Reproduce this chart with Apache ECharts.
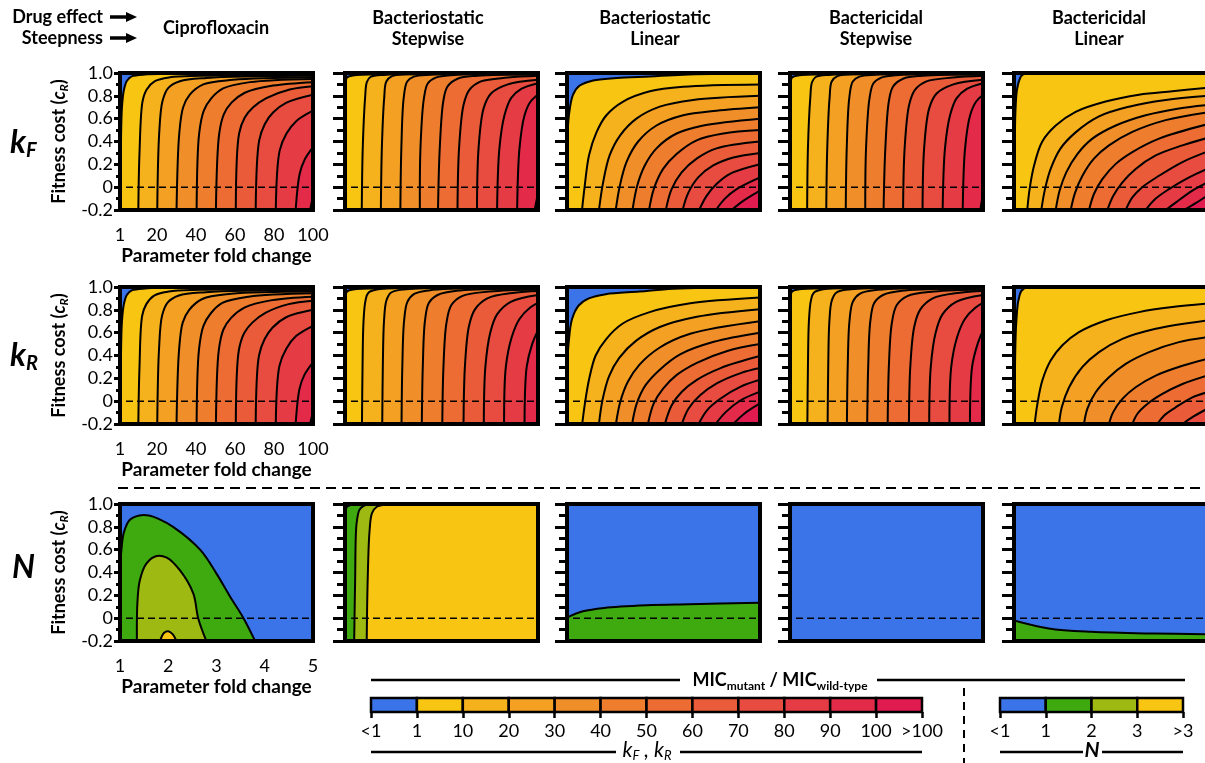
<!DOCTYPE html>
<html><head><meta charset="utf-8">
<script src="https://cdn.jsdelivr.net/npm/echarts@6/dist/echarts.min.js"></script>
<style>html,body{margin:0;padding:0;background:#fff}#c{width:1205px;height:763px}</style>
</head><body><div id="c"></div>
<script>
// ---------------- DATA ----------------
const COLUMN_TITLES = [['Ciprofloxacin'], ['Bacteriostatic', 'Stepwise'], ['Bacteriostatic', 'Linear'], ['Bactericidal', 'Stepwise'], ['Bactericidal', 'Linear']];
const ROW_NAMES = [['k', 'F'], ['k', 'R'], ['N', '']];
const K_X_TICKS = [1, 10, 20, 30, 40, 50, 60, 70, 80, 90, 100];
const K_X_LABELS = [1, 20, 40, 60, 80, 100];
const N_X_TICKS = [1, 2, 3, 4, 5];
const N_X_LABELS = [1, 2, 3, 4, 5];
const K_BAR_LABELS = ['<1', '1', '10', '20', '30', '40', '50', '60', '70', '80', '90', '100', '>100'];
const N_BAR_LABELS = ['<1', '1', '2', '3', '>3'];

// contour lines, each a list of [fold change, fitness cost] points; levels 1,10,20,...,100
const KF_CIPRO = [
  [[1.3,-0.2],[1.5,0.4],[2,0.7],[3,0.85],[4.5,0.93],[7,0.97],[15,0.988],[100,0.995]],
  [[10.4,-0.2],[11,0.3],[12.6,0.755],[14.7,0.856],[18.9,0.928],[26.6,0.962],[42,0.975],[100,0.985]],
  [[20.1,-0.2],[21.1,0.47],[22.8,0.755],[25.8,0.87],[31.7,0.928],[45.4,0.957],[100,0.975]],
  [[30,-0.2],[31.4,0.47],[33.4,0.70],[36.8,0.81],[43.7,0.9],[59,0.94],[100,0.962]],
  [[40.3,-0.2],[41.6,0.47],[44,0.67],[47.9,0.78],[53.9,0.865],[67.6,0.92],[100,0.948]],
  [[50.2,-0.2],[51.9,0.47],[54.3,0.64],[58.2,0.74],[65,0.827],[79.5,0.89],[100,0.92]],
  [[60.4,-0.2],[62.1,0.47],[65,0.61],[69.3,0.70],[76.1,0.78],[88,0.856],[100,0.885]],
  [[70.6,-0.2],[72.4,0.41],[75.3,0.554],[79.5,0.654],[86.4,0.74],[100,0.81]],
  [[80.9,-0.2],[82.9,0.32],[86.4,0.47],[91.5,0.58],[100,0.67]],
  [[91.1,-0.2],[93.2,0.12],[95.7,0.24],[100,0.35]],
  [[98.5,-0.2],[100,-0.08]]
];
const KR_CIPRO = [
  [[1.3,-0.2],[1.5,0.4],[2,0.7],[3,0.85],[4.5,0.93],[7,0.97],[15,0.988],[100,0.995]],
  [[10.4,-0.2],[11,0.3],[12.4,0.75],[14.5,0.85],[18.5,0.925],[26,0.96],[42,0.975],[100,0.985]],
  [[20.1,-0.2],[21,0.45],[22.6,0.75],[25.5,0.865],[31.2,0.925],[45,0.955],[100,0.973]],
  [[30,-0.2],[31.3,0.45],[33.2,0.69],[36.5,0.80],[43.2,0.895],[58,0.94],[100,0.96]],
  [[40.3,-0.2],[41.5,0.45],[43.8,0.66],[47.6,0.77],[53.5,0.86],[67,0.915],[100,0.945]],
  [[50.2,-0.2],[51.7,0.45],[54.1,0.63],[58,0.73],[64.8,0.82],[79,0.885],[100,0.915]],
  [[60.4,-0.2],[62,0.45],[64.8,0.6],[69,0.69],[75.8,0.775],[87.5,0.85],[100,0.88]],
  [[70.6,-0.2],[72.3,0.4],[75.2,0.545],[79.3,0.645],[86.2,0.735],[100,0.80]],
  [[80.9,-0.2],[82.8,0.31],[86.3,0.46],[91.3,0.57],[100,0.66]],
  [[91.1,-0.2],[93.1,0.11],[95.6,0.23],[100,0.34]],
  [[98.5,-0.2],[100,-0.09]]
];
const KF_BSTAT_STEP = [
  [[1.1,-0.2],[1.15,0.6],[1.3,0.9],[2,0.96],[6,0.98],[30,0.99],[100,0.995]],
  [[9.6,-0.2],[10.1,0.34],[11.3,0.78],[12.2,0.92],[14,0.965],[22,0.985],[100,0.995]],
  [[19.4,-0.2],[19.9,0.34],[21.1,0.78],[22.2,0.926],[25.1,0.972],[33,0.988],[100,0.995]],
  [[29.4,-0.2],[29.9,0.34],[31.1,0.78],[32.9,0.926],[36.3,0.968],[45,0.985],[100,0.993]],
  [[39.4,-0.2],[39.7,0.34],[41.5,0.78],[43.5,0.91],[47.5,0.96],[57,0.983],[100,0.99]],
  [[48.7,-0.2],[49.6,0.34],[51.4,0.75],[53.5,0.88],[58.7,0.95],[69,0.976],[100,0.987]],
  [[58.7,-0.2],[59.5,0.34],[61.8,0.72],[64.7,0.85],[70.7,0.926],[84.5,0.96],[100,0.975]],
  [[68.7,-0.2],[69.5,0.34],[72.1,0.69],[75.9,0.82],[84.5,0.90],[100,0.94]],
  [[79,-0.2],[80.2,0.34],[82.8,0.63],[86.2,0.78],[91.4,0.86],[100,0.91]],
  [[89.3,-0.2],[90.5,0.34],[93.1,0.63],[96.2,0.75],[100,0.81]],
  [[98.3,-0.2],[100,-0.05]]
];
const KR_BSTAT_STEP = [
  [[1.1,-0.2],[1.15,0.6],[1.3,0.9],[2,0.96],[6,0.98],[30,0.99],[100,0.995]],
  [[9.7,-0.2],[10,0.3],[10.5,0.7],[11.5,0.88],[13,0.95],[18,0.98],[100,0.995]],
  [[20.1,-0.2],[20.4,0.3],[21,0.7],[22.2,0.88],[24.5,0.95],[32,0.98],[100,0.993]],
  [[30,-0.2],[30.4,0.3],[31.3,0.7],[33,0.87],[36.5,0.94],[46,0.975],[100,0.99]],
  [[40.4,-0.2],[40.9,0.3],[42,0.7],[44,0.86],[48.5,0.93],[60,0.97],[100,0.985]],
  [[50.9,-0.2],[51.5,0.3],[53,0.68],[55.5,0.84],[61,0.92],[75,0.96],[100,0.978]],
  [[61.8,-0.2],[62.5,0.3],[64.5,0.65],[67.5,0.8],[74,0.9],[88,0.95],[100,0.965]],
  [[72.2,-0.2],[73,0.3],[75.5,0.6],[79,0.76],[86,0.87],[100,0.93]],
  [[82.6,-0.2],[83.5,0.3],[86.5,0.56],[90.5,0.72],[96,0.82],[100,0.86]],
  [[93.1,-0.2],[94.2,0.3],[97,0.5],[100,0.62]]
];
const KF_BSTAT_LIN = [
  [[1,0.37],[2,0.63],[4.1,0.81],[7.5,0.89],[14.4,0.935],[26.3,0.956],[43.5,0.97],[60.6,0.985],[100,0.997]],
  [[8.7,-0.2],[10.1,0.012],[12.3,0.28],[16.1,0.48],[21.2,0.63],[29.8,0.75],[43.5,0.84],[60.6,0.88],[100,0.90]],
  [[17.4,-0.2],[19.5,0.04],[22.9,0.28],[28.1,0.45],[36.6,0.60],[48.6,0.705],[65.7,0.764],[100,0.80]],
  [[26,-0.2],[28.1,0.012],[31.5,0.22],[37.5,0.40],[46.9,0.54],[60.6,0.63],[77.7,0.67],[100,0.70]],
  [[34.6,-0.2],[37,0.012],[40.9,0.19],[46.9,0.34],[57.2,0.47],[70.9,0.54],[100,0.60]],
  [[43.1,-0.2],[45.5,-0.017],[50.3,0.16],[57.2,0.29],[67.5,0.41],[81.2,0.47],[100,0.50]],
  [[51.7,-0.2],[54.6,-0.02],[59.8,0.13],[67.5,0.25],[77.7,0.34],[100,0.40]],
  [[60.3,-0.2],[63.2,-0.05],[68.3,0.086],[76,0.19],[86.3,0.26],[100,0.30]],
  [[68.8,-0.2],[72.6,-0.076],[77.7,0.027],[84.6,0.116],[100,0.20]],
  [[77.4,-0.2],[82,-0.1],[88,-0.017],[100,0.086]],
  [[85.4,-0.2],[91.4,-0.12],[100,-0.03]]
];
const KR_BSTAT_LIN = [
  [[1,0.276],[1.87,0.515],[3.6,0.72],[7.1,0.84],[12.2,0.90],[20.9,0.937],[38.2,0.96],[55.5,0.985],[100,1.0]],
  [[8.8,-0.2],[10.2,-0.02],[12.3,0.19],[15.7,0.40],[20.9,0.54],[29.6,0.68],[43.4,0.78],[64.2,0.857],[100,0.908]],
  [[17.4,-0.2],[19.2,0.01],[22.6,0.22],[27.8,0.38],[36.5,0.53],[48.6,0.65],[67.6,0.74],[100,0.806]],
  [[26.1,-0.2],[28.3,-0.007],[32.2,0.17],[38.2,0.32],[48.6,0.47],[64.2,0.59],[100,0.70]],
  [[34.4,-0.2],[36.8,-0.02],[41.3,0.14],[48.6,0.276],[59,0.41],[76.3,0.52],[100,0.60]],
  [[42.5,-0.2],[45.5,-0.02],[50.3,0.11],[57.3,0.23],[67.6,0.336],[83.2,0.44],[100,0.50]],
  [[51.2,-0.2],[54.7,-0.036],[59.9,0.083],[67.6,0.187],[79.8,0.29],[100,0.395]],
  [[59.9,-0.2],[63.3,-0.066],[69.4,0.053],[78,0.157],[90.1,0.246],[100,0.29]],
  [[68.5,-0.2],[72.8,-0.08],[79.8,0.023],[90.1,0.127],[100,0.187]],
  [[77.2,-0.2],[82.4,-0.096],[90.1,0.008],[100,0.083]],
  [[86.3,-0.2],[91.9,-0.11],[100,-0.02]]
];
const KF_BCID_STEP = [
  [[1.1,-0.2],[1.15,0.6],[1.3,0.9],[2,0.96],[6,0.98],[30,0.99],[100,0.995]],
  [[9.8,-0.2],[10.2,0.34],[11.4,0.78],[12.3,0.92],[14.2,0.965],[22,0.985],[100,0.995]],
  [[19.6,-0.2],[20.1,0.34],[21.3,0.78],[22.4,0.926],[25.3,0.972],[33,0.988],[100,0.995]],
  [[29.6,-0.2],[30.1,0.34],[31.4,0.78],[33.2,0.926],[36.6,0.968],[45,0.985],[100,0.993]],
  [[39.6,-0.2],[40,0.34],[41.8,0.78],[43.8,0.91],[47.8,0.96],[57,0.983],[100,0.99]],
  [[49,-0.2],[49.9,0.34],[51.7,0.75],[53.8,0.88],[59,0.95],[69,0.976],[100,0.987]],
  [[59,-0.2],[59.8,0.34],[62.1,0.72],[65,0.85],[71,0.926],[84.5,0.96],[100,0.975]],
  [[69,-0.2],[69.8,0.34],[72.4,0.69],[76.2,0.82],[84.8,0.90],[100,0.94]],
  [[79.3,-0.2],[80.5,0.34],[83.1,0.63],[86.5,0.78],[91.7,0.86],[100,0.91]],
  [[89.6,-0.2],[90.8,0.34],[93.4,0.63],[96.5,0.75],[100,0.81]],
  [[98.6,-0.2],[100,-0.06]]
];
const KR_BCID_STEP = [
  [[1.1,-0.2],[1.15,0.6],[1.3,0.9],[2,0.96],[6,0.98],[30,0.99],[100,0.995]],
  [[9.9,-0.2],[10.2,0.3],[10.7,0.7],[11.7,0.88],[13.2,0.95],[18,0.98],[100,0.995]],
  [[20.3,-0.2],[20.6,0.3],[21.2,0.7],[22.4,0.88],[24.7,0.95],[32,0.98],[100,0.993]],
  [[30.2,-0.2],[30.6,0.3],[31.5,0.7],[33.2,0.87],[36.7,0.94],[46,0.975],[100,0.99]],
  [[40.6,-0.2],[41.1,0.3],[42.2,0.7],[44.2,0.86],[48.7,0.93],[60,0.97],[100,0.985]],
  [[51.1,-0.2],[51.7,0.3],[53.2,0.68],[55.7,0.84],[61.2,0.92],[75,0.96],[100,0.978]],
  [[62,-0.2],[62.7,0.3],[64.7,0.65],[67.7,0.8],[74.2,0.9],[88,0.95],[100,0.965]],
  [[72.4,-0.2],[73.2,0.3],[75.7,0.6],[79.2,0.76],[86.2,0.87],[100,0.93]],
  [[82.8,-0.2],[83.7,0.3],[86.7,0.56],[90.7,0.72],[96.2,0.82],[100,0.86]],
  [[93.3,-0.2],[94.4,0.3],[97.2,0.5],[100,0.62]]
];
const KF_BCID_LIN = [
  [[1.3,-0.2],[1.4,0.3],[1.7,0.65],[2.5,0.85],[3.8,0.94],[5.5,0.985],[100,1.0]],
  [[7.8,-0.2],[9,-0.017],[11.3,0.19],[15.5,0.40],[22.4,0.54],[32.6,0.66],[48,0.75],[65.1,0.81],[82.2,0.84],[100,0.87]],
  [[15,-0.2],[16.9,-0.017],[19.8,0.16],[24.9,0.34],[32.6,0.48],[44.6,0.62],[60,0.705],[78.8,0.764],[100,0.80]],
  [[22.4,-0.2],[24.4,-0.03],[27.8,0.13],[33.5,0.29],[41.2,0.425],[53.2,0.54],[68.5,0.63],[85.6,0.69],[100,0.72]],
  [[30.1,-0.2],[32.3,-0.05],[36.1,0.10],[42,0.25],[49.7,0.366],[61.7,0.484],[78.8,0.587],[100,0.655]],
  [[39.5,-0.2],[42,-0.06],[46.3,0.07],[53.2,0.204],[61.7,0.307],[75.4,0.425],[100,0.55]],
  [[48.9,-0.2],[51.8,-0.08],[56.6,0.042],[63.4,0.16],[73.7,0.278],[87.4,0.366],[100,0.43]],
  [[58.3,-0.2],[61.7,-0.09],[66.8,0.0],[75.4,0.10],[87.4,0.22],[100,0.31]],
  [[68.5,-0.2],[73.7,-0.1],[80.5,-0.017],[90.8,0.086],[100,0.16]],
  [[78.8,-0.2],[83.9,-0.135],[92.5,-0.03],[100,0.04]],
  [[88.2,-0.2],[94.2,-0.14],[100,-0.076]]
];
const KR_BCID_LIN = [
  [[1.4,-0.2],[1.6,0.4],[2.2,0.7],[3.5,0.9],[6,0.985],[100,1.0]],
  [[11.6,-0.2],[13,-0.024],[15.5,0.18],[19.8,0.356],[25.8,0.49],[34.3,0.605],[48,0.707],[65.1,0.78],[82.2,0.824],[100,0.854]],
  [[24.1,-0.2],[25.5,-0.054],[29.2,0.12],[36.1,0.30],[44.6,0.43],[56.6,0.546],[73.7,0.634],[100,0.707]],
  [[36.9,-0.2],[38.6,-0.068],[42.9,0.078],[49.7,0.21],[58.3,0.327],[70.3,0.43],[85.6,0.517],[100,0.56]],
  [[49.7,-0.2],[51.8,-0.098],[56.6,0.02],[63.4,0.122],[73.7,0.224],[87.4,0.31],[100,0.37]],
  [[61.7,-0.2],[64.3,-0.11],[69.4,-0.024],[77.1,0.063],[87.4,0.15],[100,0.224]],
  [[74.5,-0.2],[77.9,-0.127],[83.9,-0.054],[92.5,0.034],[100,0.078]],
  [[87.4,-0.2],[92.5,-0.14],[100,-0.068]]
];
// N contours (levels 1, 2, 3)
const N_CIPRO = [
  [[1,0.42],[1.03,0.6],[1.08,0.75],[1.2,0.86],[1.4,0.9],[1.6,0.9],[1.8,0.87],[2.1,0.8],[2.66,0.6],[3.0,0.39],[3.28,0.19],[3.56,0],[3.8,-0.2]],
  [[1.35,-0.2],[1.36,0.13],[1.41,0.33],[1.55,0.48],[1.76,0.545],[1.97,0.53],[2.24,0.42],[2.52,0.215],[2.62,0.0],[2.79,-0.2]],
  [[1.83,-0.2],[1.91,-0.13],[2.0,-0.115],[2.09,-0.14],[2.17,-0.2]]
];
const N_BSTAT_STEP = [
  [[1,0.93],[1.04,0.975],[1.12,0.99],[1.3,1.0]],
  [[1.19,-0.2],[1.21,0.33],[1.24,0.83],[1.30,0.95],[1.38,0.982],[1.6,1.0]],
  [[1.45,-0.2],[1.47,0.33],[1.51,0.77],[1.56,0.92],[1.66,0.976],[1.9,0.995],[2.2,1.0]]
];
const N_BSTAT_LIN = [
  [[1,0.005],[1.33,0.06],[1.77,0.09],[2.65,0.113],[3.53,0.122],[5,0.134]]
];
const N_BCID_STEP = [];
const N_BCID_LIN = [
  [[1,-0.02],[1.72,-0.09],[2.6,-0.12],[3.92,-0.135],[5,-0.14]]
];

// ---------------- STYLE / LAYOUT ----------------
const K_COLORS = ['#3b74e9','#f8c512','#f5b21d','#f3a023','#f08f29','#ee7e2e','#ec6c34','#ea5b39','#e84b3f','#e53b44','#e32b49','#e01b4f'];
const N_COLORS = ['#3b74e9','#3faa10','#9eb912','#f8c512'];
const FONT = 'Lato, "Open Sans", sans-serif';
const COL_LEFT = [120, 345, 567, 790, 1014];
const ROW_TOP = [73, 287, 504];
const PW = 193, PH = 137;

const PANELS = [
  {r:0,c:0,d:KF_CIPRO,mode:'upper',k:true},{r:0,c:1,d:KF_BSTAT_STEP,mode:'upper',k:true},{r:0,c:2,d:KF_BSTAT_LIN,mode:'upper',k:true},{r:0,c:3,d:KF_BCID_STEP,mode:'upper',k:true},{r:0,c:4,d:KF_BCID_LIN,mode:'upper',k:true},
  {r:1,c:0,d:KR_CIPRO,mode:'upper',k:true},{r:1,c:1,d:KR_BSTAT_STEP,mode:'upper',k:true},{r:1,c:2,d:KR_BSTAT_LIN,mode:'upper',k:true},{r:1,c:3,d:KR_BCID_STEP,mode:'upper',k:true},{r:1,c:4,d:KR_BCID_LIN,mode:'upper',k:true},
  {r:2,c:0,d:N_CIPRO,mode:'lower',k:false},{r:2,c:1,d:N_BSTAT_STEP,mode:'upper',k:false},{r:2,c:2,d:N_BSTAT_LIN,mode:'lower',k:false},{r:2,c:3,d:N_BCID_STEP,mode:'lower',k:false},{r:2,c:4,d:N_BCID_LIN,mode:'lower',k:false}
];

function curveD(px) {
  let d = 'M' + px[0][0] + ',' + px[0][1];
  for (let i = 0; i < px.length - 1; i++) {
    const p0 = px[i - 1], p1 = px[i], p2 = px[i + 1], p3 = px[i + 2];
    const dist = (a, b) => Math.hypot(a[0] - b[0], a[1] - b[1]);
    const l12 = dist(p1, p2), l12a = Math.sqrt(l12);
    let c1 = p1.slice(), c2 = p2.slice();
    if (p0) {
      const l01 = dist(p0, p1), l01a = Math.sqrt(l01);
      if (l01a > 1e-6) {
        const a = 2 * l01 + 3 * l01a * l12a + l12, n = 3 * l01a * (l01a + l12a);
        c1 = [(p1[0] * a - p0[0] * l12 + p2[0] * l01) / n, (p1[1] * a - p0[1] * l12 + p2[1] * l01) / n];
      }
    }
    if (p3) {
      const l23 = dist(p2, p3), l23a = Math.sqrt(l23);
      if (l23a > 1e-6) {
        const b = 2 * l23 + 3 * l23a * l12a + l12, m = 3 * l23a * (l23a + l12a);
        c2 = [(p2[0] * b + p1[0] * l23 - p3[0] * l12) / m, (p2[1] * b + p1[1] * l23 - p3[1] * l12) / m];
      }
    }
    d += 'C' + c1[0] + ',' + c1[1] + ' ' + c2[0] + ',' + c2[1] + ' ' + p2[0] + ',' + p2[1];
  }
  return d;
}

function renderPanel(p, params, api) {
  const cs = params.coordSys;
  const colors = p.k ? K_COLORS : N_COLORS;
  const n = p.d.length;
  const L = cs.x - 6, R = cs.x + cs.width + 6, T = cs.y - 6, B = cs.y + cs.height + 6;
  const children = [];
  children.push({type: 'rect', shape: {x: cs.x - 2, y: cs.y - 2, width: cs.width + 4, height: cs.height + 4},
    style: {fill: p.mode === 'upper' ? colors[n] : colors[0]}});
  const pxs = p.d.map(cv => cv.map(pt => api.coord(pt)));
  const idx = [...Array(n).keys()];
  if (p.mode === 'upper') idx.reverse();
  idx.forEach(i => {
    const corners = p.mode === 'upper' ? [[R, T], [L, T], [L, B]] : [[R, B], [L, B]];
    const d = curveD(pxs[i]) + corners.map(q => 'L' + q[0] + ',' + q[1]).join('') + 'Z';
    children.push({type: 'path', shape: {pathData: d}, style: {fill: p.mode === 'upper' ? colors[i] : colors[i + 1], stroke: 'none'}});
  });
  pxs.forEach(px => children.push({type: 'path', shape: {pathData: curveD(px)}, style: {fill: 'none', stroke: '#000', lineWidth: 2}}));
  const xmax = p.k ? 100 : 5;
  const a = api.coord([1, 0]), b = api.coord([xmax, 0]);
  children.push({type: 'line', shape: {x1: a[0] + 6, y1: a[1], x2: b[0], y2: b[1]}, style: {stroke: '#000', lineWidth: 1.5, lineDash: [7, 4]}});
  return {type: 'group', children};
}

const grids = [], xAxes = [], yAxes = [], series = [];
PANELS.forEach((p, i) => {
  grids.push({left: COL_LEFT[p.c], top: ROW_TOP[p.r], width: PW, height: PH, containLabel: false, outerBoundsMode: 'none'});
  const first = p.c === 0;
  xAxes.push({
    gridIndex: i, type: 'value', min: 1, max: p.k ? 100 : 5,
    axisLine: {show: false}, splitLine: {show: false},
    axisTick: {show: true, length: 10, lineStyle: {width: 3, color: '#000'}, customValues: p.k ? K_X_TICKS : N_X_TICKS},
    axisLabel: {show: first, customValues: p.k ? K_X_LABELS : N_X_LABELS, fontSize: 18, color: '#000', fontFamily: FONT, margin: 16},
    name: first ? 'Parameter fold change' : '', nameLocation: 'middle', nameGap: 36,
    nameTextStyle: {fontSize: 19, fontWeight: 'bold', color: '#000', fontFamily: FONT}
  });
  yAxes.push({
    gridIndex: i, type: 'value', min: -0.2, max: 1.0, interval: 0.2,
    axisLine: {show: false}, splitLine: {show: false},
    axisTick: {show: true, length: first ? 6 : 12, lineStyle: {width: 3, color: '#000'}},
    minorTick: {show: true, splitNumber: 2, length: first ? 4 : 8, lineStyle: {width: 3, color: '#000'}},
    minorSplitLine: {show: false},
    axisLabel: {show: first, fontSize: 18, color: '#000', fontFamily: FONT, margin: 7,
      formatter: v => Math.abs(v) < 1e-9 ? '0' : v.toFixed(1)},
    name: first ? '{a|Fitness cost (}{i|c}{s|R}{a|)}' : '', nameLocation: 'middle', nameGap: 50,
    nameTextStyle: {color: '#000', rich: {
      a: {fontSize: 18, fontWeight: 'bold', fontFamily: FONT, color: '#000', lineHeight: 22},
      i: {fontSize: 18, fontWeight: 'bold', fontStyle: 'italic', fontFamily: FONT, color: '#000', lineHeight: 22},
      s: {fontSize: 12, fontWeight: 'bold', fontStyle: 'italic', fontFamily: FONT, color: '#000', lineHeight: 12, verticalAlign: 'bottom'}
    }}
  });
  series.push({type: 'custom', xAxisIndex: i, yAxisIndex: i, clip: true, silent: true, z: 2, data: [[1, 0]],
    renderItem: (params, api) => renderPanel(p, params, api)});
  series.push({type: 'custom', xAxisIndex: i, yAxisIndex: i, clip: false, silent: true, z: 4, data: [[1, 0]],
    renderItem: (params) => {
      const cs = params.coordSys;
      return {type: 'rect', shape: {x: cs.x, y: cs.y, width: cs.width, height: cs.height}, style: {fill: 'none', stroke: '#000', lineWidth: 4}};
    }});
});

// colour bars
function addBar(left, width, labels, colors) {
  const gi = grids.length;
  grids.push({left: left, top: 698, width: width, height: 14, containLabel: false, outerBoundsMode: 'none'});
  const pos = labels.map((_, j) => j);
  xAxes.push({gridIndex: gi, type: 'value', min: 0, max: labels.length - 1,
    axisLine: {show: false}, splitLine: {show: false},
    axisTick: {show: true, length: 6, lineStyle: {width: 2.5, color: '#000'}, customValues: pos},
    axisLabel: {show: true, customValues: pos, formatter: v => labels[Math.round(v)], fontSize: 18, color: '#000', fontFamily: FONT, margin: 10}});
  yAxes.push({gridIndex: gi, type: 'value', min: 0, max: 1, show: false});
  series.push({type: 'custom', xAxisIndex: gi, yAxisIndex: gi, clip: false, silent: true, z: 3,
    data: colors.map((_, j) => [j, 0]),
    renderItem: (params, api) => {
      const j = api.value(0);
      const p0 = api.coord([j, 1]), p1 = api.coord([j + 1, 0]);
      return {type: 'rect', shape: {x: p0[0], y: p0[1], width: p1[0] - p0[0], height: p1[1] - p0[1]},
        style: {fill: colors[j], stroke: '#000', lineWidth: 2.5}};
    }});
}
addBar(371, 551, K_BAR_LABELS, K_COLORS);
addBar(1000, 183, N_BAR_LABELS, N_COLORS);

// texts & decorations
const G = [];
function txt(x, y, text, size, opts) {
  G.push({type: 'text', x: x, y: y, silent: true, style: Object.assign({text: text, fill: '#000',
    font: 'bold ' + size + 'px ' + FONT, textAlign: 'center', textVerticalAlign: 'middle'}, opts || {})});
}
function hline(x1, x2, y, dash, w) {
  G.push({type: 'line', silent: true, shape: {x1: x1, y1: y, x2: x2, y2: y}, style: {stroke: '#000', lineWidth: w || 2.5, lineDash: dash || null}});
}
const HEAD_X = [216, 428, 655, 876, 1099];
COLUMN_TITLES.forEach((t, j) => {
  if (t.length === 1) txt(HEAD_X[j], 28, t[0], 18);
  else { txt(HEAD_X[j], 18, t[0], 18); txt(HEAD_X[j], 39, t[1], 18); }
});
txt(103, 17, 'Drug effect', 18, {textAlign: 'right'});
txt(103, 38, 'Steepness', 18, {textAlign: 'right'});
[17, 38].forEach(y => {
  G.push({type: 'line', silent: true, shape: {x1: 110, y1: y, x2: 128, y2: y}, style: {stroke: '#000', lineWidth: 3.5}});
  G.push({type: 'polygon', silent: true, shape: {points: [[126, y - 5], [137, y], [126, y + 5]]}, style: {fill: '#000'}});
});
const ROW_LABEL_Y = [143, 356, 568];
ROW_NAMES.forEach((rn, j) => {
  G.push({type: 'text', x: rn[1] ? 10 : 12, y: ROW_LABEL_Y[j], silent: true, style: {
    text: '{m|' + rn[0] + '}' + (rn[1] ? '{s|' + rn[1] + '}' : ''), textAlign: 'left', textVerticalAlign: 'middle',
    rich: {m: {fontSize: 32, fontWeight: 'bold', fontStyle: 'italic', fontFamily: FONT, fill: '#000', lineHeight: 36},
      s: {fontSize: 20, fontWeight: 'bold', fontStyle: 'italic', fontFamily: FONT, fill: '#000', lineHeight: 20, verticalAlign: 'bottom'}}}});
});
hline(118, 1205, 488, [10, 6], 2);
// MIC header
hline(371, 680, 680); hline(877, 1185, 680);
G.push({type: 'text', x: 780, y: 680, silent: true, style: {
  text: '{b|MIC}{s|mutant}{b| / MIC}{s|wild-type}', textAlign: 'center', textVerticalAlign: 'middle',
  rich: {b: {fontSize: 18, fontWeight: 'bold', fontFamily: FONT, fill: '#000', lineHeight: 24},
    s: {fontSize: 12, fontWeight: 'bold', fontFamily: FONT, fill: '#000', lineHeight: 14, verticalAlign: 'bottom'}}}});
hline(371, 616, 752); hline(680, 922, 752);
G.push({type: 'text', x: 647, y: 750, silent: true, style: {
  text: '{m|k}{s|F}{m| , k}{s|R}', textAlign: 'center', textVerticalAlign: 'middle',
  rich: {m: {fontSize: 21, fontStyle: 'italic', fontFamily: FONT, fill: '#000', lineHeight: 24},
    s: {fontSize: 13, fontStyle: 'italic', fontFamily: FONT, fill: '#000', lineHeight: 14, verticalAlign: 'bottom'}}}});
hline(1000, 1083, 752); hline(1102, 1183, 752);
txt(1092, 750, 'N', 21, {font: 'italic bold 21px ' + FONT});
G.push({type: 'line', silent: true, shape: {x1: 964, y1: 688, x2: 964, y2: 763}, style: {stroke: '#000', lineWidth: 2, lineDash: [8, 6]}});

const chart = echarts.init(document.getElementById('c'), null, {renderer: 'canvas'});
chart.setOption({
  animation: false, backgroundColor: '#fff',
  grid: grids, xAxis: xAxes, yAxis: yAxes, series: series, graphic: G
});
</script></body></html>
